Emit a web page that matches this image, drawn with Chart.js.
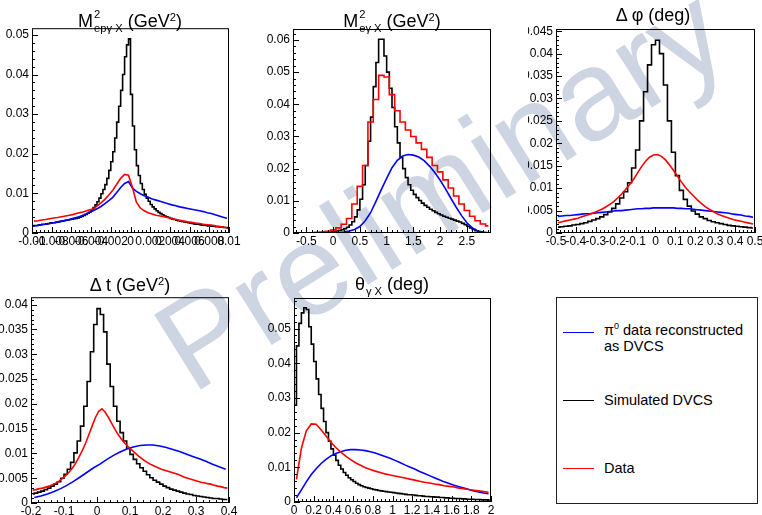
<!DOCTYPE html>
<html>
<head>
<meta charset="utf-8">
<script src="https://cdn.jsdelivr.net/npm/chart.js@4/dist/chart.umd.min.js"></script>
<style>
  html, body { margin: 0; padding: 0; background: #fff; }
  body { width: 762px; height: 515px; position: relative; overflow: hidden; font-family: "Liberation Sans", Arial, sans-serif; }
  canvas { position: absolute; z-index: 1; }
  .title { position: absolute; z-index: 2; font-size: 18px; white-space: nowrap; transform: translateX(-50%); line-height: 1; }
  .title sup { font-size: 62%; vertical-align: 0.55em; }
  .stk { display: inline-block; vertical-align: -5px; font-size: 62%; line-height: 1.25; margin-left: 1px; }
  .stk span { display: block; }
  .sub { font-size: 62%; vertical-align: -5px; margin-left: 1px; }
  #mark { position: absolute; z-index: 0; left: 440px; top: 188px; transform: translate(-50%, -50%) rotate(-32deg);
          font-size: 128px; line-height: 1; color: rgb(206, 213, 226); white-space: nowrap; }
  #legend { position: absolute; z-index: 2; left: 556px; top: 297px; width: 200px; height: 205px; border: 1px solid #222; background: #fff; font-size: 14.5px; }
  .ln { position: absolute; left: 6px; width: 31px; height: 1px; }
  .lt { position: absolute; left: 47px; line-height: 16px; }
  .lt sup { font-size: 62%; }
</style>
</head>
<body>
<div id="mark">Preliminary</div>

<div class="title" style="left:130px; top:8px">M<span class="stk"><span>2</span><span>epγ X</span></span> (GeV<sup>2</sup>)</div>
<div class="title" style="left:392px; top:8px">M<span class="stk"><span>2</span><span>eγ X</span></span> (GeV<sup>2</sup>)</div>
<div class="title" style="left:653px; top:6px">Δ φ (deg)</div>
<div class="title" style="left:130px; top:276px">Δ t (GeV<sup>2</sup>)</div>
<div class="title" style="left:392px; top:275px">θ<span class="sub">γ X</span> (deg)</div>

<div id="legend">
  <div class="ln" style="top:34px; background:#0000ff"></div>
  <div class="lt" style="top:20px">π<sup>0</sup> data reconstructed<br>as DVCS</div>
  <div class="ln" style="top:102px; background:#000"></div>
  <div class="lt" style="top:94px">Simulated DVCS</div>
  <div class="ln" style="top:170px; background:#ff0000"></div>
  <div class="lt" style="top:162px">Data</div>
</div>

<canvas id="c1"></canvas>
<canvas id="c2"></canvas>
<canvas id="c3"></canvas>
<canvas id="c4"></canvas>
<canvas id="c5"></canvas>

<script>
// ---- panel 1 : missing mass squared e p gamma X
const p1Range = [-0.01, 0.01];
const p1YMax = 0.0517;
const p1XTicks = [-0.01, -0.008, -0.006, -0.004, -0.002, 0, 0.002, 0.004, 0.006, 0.008, 0.01];
const p1YTicks = [0, 0.01, 0.02, 0.03, 0.04, 0.05];
const p1Black = [
  0.0018, 0.0019, 0.0019, 0.002, 0.0021, 0.0022, 0.0022, 0.0023, 0.0024, 0.0025,
  0.0026, 0.0026, 0.0027, 0.0028, 0.0029, 0.003, 0.0031, 0.0032, 0.0033, 0.0034,
  0.0035, 0.0036, 0.0037, 0.0038, 0.004, 0.0042, 0.0044, 0.0047, 0.005, 0.0053,
  0.0058, 0.0064, 0.0071, 0.0079, 0.0088, 0.0099, 0.011, 0.0122, 0.0138, 0.0158,
  0.018, 0.0205, 0.024, 0.028, 0.032, 0.036, 0.04, 0.0445, 0.0475, 0.049,
  0.035, 0.027, 0.021, 0.017, 0.0145, 0.0125, 0.011, 0.0098, 0.0088, 0.008,
  0.0072, 0.0066, 0.0061, 0.0056, 0.0052, 0.0049, 0.0046, 0.0043, 0.0041, 0.0039,
  0.0037, 0.0035, 0.0034, 0.0032, 0.0031, 0.003, 0.0029, 0.0028, 0.0027, 0.0026,
  0.0025, 0.0024, 0.0023, 0.0022, 0.0022, 0.0021, 0.002, 0.002, 0.0019, 0.0018,
  0.0018, 0.0017, 0.0017, 0.0016, 0.0016, 0.0015, 0.0015, 0.0014, 0.0014, 0.0013
];
const p1Red = [
  0.003, 0.0031, 0.0033, 0.0034, 0.0036, 0.0038, 0.0039, 0.0041, 0.0043, 0.0045,
  0.0047, 0.005, 0.0052, 0.0055, 0.0058, 0.0061, 0.0068, 0.0076, 0.0085, 0.0096,
  0.0108, 0.0123, 0.0138, 0.0148, 0.0146, 0.0115, 0.0078, 0.0063, 0.0056, 0.0051,
  0.0048, 0.0045, 0.0043, 0.0041, 0.0039, 0.0036, 0.0034, 0.0032, 0.003, 0.0028,
  0.0027, 0.0025, 0.0024, 0.0022, 0.0021, 0.002, 0.0018, 0.0016, 0.0015, 0.0013
];
const p1Blue = [
  0.0018, 0.0019, 0.0021, 0.0022, 0.0024, 0.0026, 0.0028, 0.003, 0.0032, 0.0034,
  0.0037, 0.004, 0.0043, 0.0047, 0.0051, 0.0056, 0.0061, 0.0067, 0.0074, 0.0082,
  0.009, 0.0102, 0.0115, 0.0125, 0.013, 0.0113, 0.0105, 0.0099, 0.0094, 0.009,
  0.0086, 0.0083, 0.008, 0.0077, 0.0074, 0.0071, 0.0069, 0.0066, 0.0064, 0.0062,
  0.006, 0.0058, 0.0056, 0.0054, 0.0051, 0.0049, 0.0046, 0.0043, 0.004, 0.0037
];

// ---- panel 2 : missing mass squared e gamma X
const p2Range = [-0.75, 2.95];
const p2YMax = 0.0634;
const p2XTicks = [-0.5, 0, 0.5, 1, 1.5, 2, 2.5];
const p2YTicks = [0, 0.01, 0.02, 0.03, 0.04, 0.05, 0.06];
const p2Black = [
  0, 0, 0, 0, 0, 0, 0, 0, 0.0001, 0.0001,
  0.0001, 0.0002, 0.0002, 0.0003, 0.0004, 0.0005, 0.0006, 0.0008, 0.001, 0.0013,
  0.0018, 0.0025, 0.0035, 0.005, 0.0072, 0.0105, 0.015, 0.021, 0.0285, 0.036,
  0.0455, 0.053, 0.0602, 0.0602, 0.055, 0.05, 0.045, 0.039, 0.033, 0.028,
  0.0235, 0.02, 0.0172, 0.015, 0.0133, 0.012, 0.011, 0.0101, 0.0093, 0.0086,
  0.008, 0.0074, 0.0069, 0.0064, 0.006, 0.0056, 0.0052, 0.0049, 0.0046, 0.0043,
  0.004, 0.0037, 0.0034, 0.003, 0.0026, 0.0021, 0.0016, 0.0011, 0.0007, 0.0004,
  0.0002, 0.0001, 0.0001, 0
];
const p2Red = [
  0, 0, 0.0001, 0.0001, 0.0002, 0.0003, 0.0005, 0.0009, 0.0016, 0.0027,
  0.0045, 0.009, 0.0145, 0.021, 0.0345, 0.0415, 0.049, 0.0485, 0.043, 0.038,
  0.0345, 0.032, 0.03, 0.028, 0.026, 0.0235, 0.021, 0.019, 0.0165, 0.014,
  0.0115, 0.009, 0.007, 0.0052, 0.0038, 0.0028, 0.0022
];
const p2Blue = [
  0, 0, 0, 0, 0, 0, 0, 0.0001, 0.0001, 0.0003,
  0.0006, 0.0011, 0.002, 0.0038, 0.0063, 0.0098, 0.0135, 0.017, 0.0203, 0.0226,
  0.0239, 0.0244, 0.0242, 0.0236, 0.0225, 0.0208, 0.0188, 0.0164, 0.0137, 0.0108,
  0.008, 0.0054, 0.0032, 0.0016, 0.0007, 0.0003, 0.0001
];

// ---- panel 3 : delta phi
const p3Range = [-0.5, 0.5];
const p3YMax = 0.0455;
const p3XTicks = [-0.5, -0.4, -0.3, -0.2, -0.1, 0, 0.1, 0.2, 0.3, 0.4, 0.5];
const p3YTicks = [0, 0.005, 0.01, 0.015, 0.02, 0.025, 0.03, 0.035, 0.04, 0.045];
const p3Black = [
  0.0013, 0.0014, 0.0015, 0.0016, 0.0018, 0.0019, 0.0021, 0.0023, 0.0026, 0.0029,
  0.0032, 0.0036, 0.0041, 0.0047, 0.0055, 0.0065, 0.0078, 0.0092, 0.0112, 0.0145,
  0.0185, 0.025, 0.0315, 0.0375, 0.042, 0.043, 0.04, 0.033, 0.025, 0.018,
  0.0128, 0.0095, 0.0075, 0.006, 0.0049, 0.0042, 0.0036, 0.0032, 0.0028, 0.0025,
  0.0023, 0.0021, 0.0019, 0.0017, 0.0016, 0.0015, 0.0014, 0.0013, 0.0012, 0.0011
];
const p3Red = [
  0.0023, 0.0025, 0.0027, 0.0029, 0.0031, 0.0033, 0.0036, 0.0039, 0.0042, 0.0045,
  0.0049, 0.0053, 0.0058, 0.0064, 0.007, 0.0078, 0.0087, 0.0097, 0.0108, 0.012,
  0.0134, 0.0148, 0.016, 0.0169, 0.0174, 0.0175, 0.0171, 0.0163, 0.0152, 0.014,
  0.0127, 0.0114, 0.0102, 0.0092, 0.0083, 0.0074, 0.0066, 0.0059, 0.0053, 0.0048,
  0.0043, 0.0039, 0.0036, 0.0033, 0.003, 0.0028, 0.0026, 0.0024, 0.0022, 0.002
];
const p3Blue = [
  0.0037, 0.0038, 0.0039, 0.0039, 0.004, 0.0041, 0.0042, 0.0043, 0.0043, 0.0044,
  0.0045, 0.0046, 0.0047, 0.0048, 0.0049, 0.005, 0.005, 0.0051, 0.0052, 0.0053,
  0.0054, 0.0054, 0.0055, 0.0055, 0.0056, 0.0056, 0.0056, 0.0056, 0.0056, 0.0056,
  0.0055, 0.0055, 0.0054, 0.0054, 0.0053, 0.0052, 0.0051, 0.005, 0.0049, 0.0048,
  0.0047, 0.0046, 0.0045, 0.0044, 0.0042, 0.0041, 0.004, 0.0038, 0.0037, 0.0035
];

// ---- panel 4 : delta t
const p4Range = [-0.2, 0.4];
const p4YMax = 0.0415;
const p4XTicks = [-0.2, -0.1, 0, 0.1, 0.2, 0.3, 0.4];
const p4YTicks = [0, 0.005, 0.01, 0.015, 0.02, 0.025, 0.03, 0.035, 0.04];
const p4Black = [
  0.0018, 0.002, 0.0022, 0.0024, 0.0027, 0.003, 0.0034, 0.0038, 0.0043, 0.005,
  0.0058, 0.0068, 0.0082, 0.0101, 0.0125, 0.0155, 0.0195, 0.0245, 0.0305, 0.036,
  0.0392, 0.038, 0.0345, 0.028, 0.0235, 0.0195, 0.0165, 0.0142, 0.0125, 0.011,
  0.0098, 0.0088, 0.0079, 0.0071, 0.0064, 0.0057, 0.0051, 0.0046, 0.0042, 0.0038,
  0.0034, 0.0031, 0.0028, 0.0026, 0.0024, 0.0022, 0.002, 0.0018, 0.0017, 0.0015,
  0.0014, 0.0013, 0.0012, 0.0011, 0.001, 0.0009, 0.0009, 0.0008, 0.0007, 0.0007
];
const p4Red = [
  0.0026, 0.0027, 0.0029, 0.003, 0.0032, 0.0034, 0.0037, 0.004, 0.0044, 0.0049,
  0.0055, 0.0062, 0.007, 0.008, 0.0092, 0.0105, 0.012, 0.0137, 0.0155, 0.0172,
  0.0185, 0.019, 0.0183, 0.0172, 0.016, 0.0148, 0.0137, 0.0128, 0.012, 0.0113,
  0.0107, 0.0101, 0.0095, 0.009, 0.0085, 0.0081, 0.0077, 0.0074, 0.0071, 0.0068,
  0.0066, 0.0064, 0.0062, 0.006, 0.0058, 0.0055, 0.0052, 0.005, 0.0048, 0.0046,
  0.0044, 0.0042, 0.0041, 0.0039, 0.0038, 0.0036, 0.0034, 0.0033, 0.0031, 0.003
];
const p4Blue = [
  0.0011, 0.0014, 0.0018, 0.0023, 0.0029, 0.0036, 0.0044, 0.0053, 0.0062, 0.0071,
  0.0079, 0.0088, 0.0096, 0.0103, 0.0109, 0.0113, 0.0116, 0.0117, 0.0117, 0.0115,
  0.0112, 0.0108, 0.0104, 0.0099, 0.0094, 0.0089, 0.0084, 0.0078, 0.0073, 0.0068
];

// ---- panel 5 : theta gamma X
const p5Range = [0, 2];
const p5YMax = 0.0588;
const p5XTicks = [0, 0.2, 0.4, 0.6, 0.8, 1, 1.2, 1.4, 1.6, 1.8, 2];
const p5YTicks = [0, 0.01, 0.02, 0.03, 0.04, 0.05];
const p5Black = [
  0.028, 0.045, 0.0515, 0.0545, 0.056, 0.0555, 0.0505, 0.0455, 0.0405, 0.0355,
  0.031, 0.027, 0.0232, 0.02, 0.0175, 0.0153, 0.0135, 0.012, 0.0106, 0.0095,
  0.0085, 0.0077, 0.007, 0.0064, 0.0059, 0.0054, 0.005, 0.0047, 0.0044, 0.0042,
  0.004, 0.0038, 0.0036, 0.0035, 0.0033, 0.0032, 0.0031, 0.003, 0.0029, 0.0028,
  0.0027, 0.0026, 0.0025, 0.0024, 0.0023, 0.0022, 0.0021, 0.0021, 0.002, 0.0019,
  0.0018, 0.0018, 0.0017, 0.0016, 0.0016, 0.0015, 0.0015, 0.0014, 0.0014, 0.0013,
  0.0013, 0.0012, 0.0012, 0.0011, 0.0011, 0.001, 0.001, 0.001, 0.0009, 0.0009,
  0.0008, 0.0008, 0.0008, 0.0007, 0.0007, 0.0007, 0.0006, 0.0006, 0.0006, 0.0005
];
const p5Red = [
  0.0065, 0.0155, 0.0205, 0.0225, 0.0224, 0.0208, 0.019, 0.0172, 0.0157, 0.0144,
  0.0132, 0.0122, 0.0113, 0.0106, 0.0099, 0.0094, 0.0089, 0.0085, 0.0081, 0.0078,
  0.0075, 0.0072, 0.0069, 0.0066, 0.0063, 0.006, 0.0057, 0.0055, 0.0052, 0.005,
  0.0047, 0.0045, 0.0043, 0.004, 0.0038, 0.0036, 0.0034, 0.0032, 0.003, 0.0028
];
const p5Blue = [
  0.0012, 0.0035, 0.0058, 0.0079, 0.0096, 0.0111, 0.0123, 0.0133, 0.014, 0.0145,
  0.0149, 0.0151, 0.0151, 0.015, 0.0148, 0.0145, 0.0141, 0.0136, 0.0131, 0.0126,
  0.012, 0.0114, 0.0107, 0.0101, 0.0095, 0.0088, 0.0082, 0.0076, 0.007, 0.0064,
  0.0058, 0.0053, 0.0048, 0.0044, 0.004, 0.0036, 0.0032, 0.0029, 0.0026, 0.0024
];

// bin contents -> points at bin centres
function hist(range, values) {
  const w = (range[1] - range[0]) / values.length;
  return values.map((v, i) => ({ x: range[0] + (i + 0.5) * w, y: v }));
}

function fmt(v) {
  return String(parseFloat(v.toPrecision(6)));
}

// frame box + inward ROOT style ticks
const frameTicks = {
  id: 'frameTicks',
  afterDatasetsDraw(chart, args, opts) {
    const ctx = chart.ctx;
    const a = chart.chartArea;
    const xs = chart.scales.x, ys = chart.scales.y;
    ctx.save();
    ctx.strokeStyle = '#000';
    ctx.lineWidth = 1;
    ctx.beginPath();
    ticksFor(opts.xMajor, 5, xs.min, xs.max).forEach(t => {
      const px = Math.round(xs.getPixelForValue(t.v)) + 0.5;
      ctx.moveTo(px, a.bottom);
      ctx.lineTo(px, a.bottom - (t.major ? 6 : 3));
    });
    ticksFor(opts.yMajor, 5, ys.min, ys.max).forEach(t => {
      const py = Math.round(ys.getPixelForValue(t.v)) + 0.5;
      ctx.moveTo(a.left, py);
      ctx.lineTo(a.left + (t.major ? 6 : 3), py);
    });
    ctx.stroke();
    ctx.strokeRect(a.left + 0.5, a.top + 0.5, a.right - a.left - 1, a.bottom - a.top - 1);
    ctx.restore();
  }
};

function ticksFor(major, sub, min, max) {
  const step = (major[1] - major[0]) / sub;
  const out = [];
  const k0 = Math.ceil((min - major[0]) / step - 1e-6);
  const k1 = Math.floor((max - major[0]) / step + 1e-6);
  for (let k = k0; k <= k1; k++) {
    out.push({ v: major[0] + k * step, major: ((k % sub) + sub) % sub === 0 });
  }
  return out;
}

function panel(id, canvasBox, frame, range, yMax, xTicks, yTicks, black, blue, red, redStep) {
  const cv = document.getElementById(id);
  cv.style.left = canvasBox[0] + 'px';
  cv.style.top = canvasBox[1] + 'px';
  cv.width = canvasBox[2] - canvasBox[0];
  cv.height = canvasBox[3] - canvasBox[1];
  const yW = frame[0] - canvasBox[0];
  const xH = canvasBox[3] - frame[3];
  const tickFont = { family: 'Liberation Sans', size: 12 };

  const config = {
    type: 'line',
    data: {
      datasets: [
        { data: hist(range, black), borderColor: '#000000', stepped: 'middle', order: 3 },
        { data: hist(range, blue), borderColor: '#0000ff', order: 2 },
        { data: hist(range, red), borderColor: '#ff0000', stepped: redStep ? 'middle' : false, order: 1 }
      ]
    },
    options: {
      responsive: false,
      animation: false,
      events: [],
      layout: { padding: { top: frame[1] - canvasBox[1], right: canvasBox[2] - frame[2], left: 0, bottom: 0 } },
      elements: {
        point: { radius: 0 },
        line: { borderWidth: 1.6, tension: 0, fill: false }
      },
      plugins: {
        legend: { display: false },
        tooltip: { enabled: false },
        frameTicks: { xMajor: xTicks, yMajor: yTicks }
      },
      scales: {
        x: {
          type: 'linear',
          min: range[0],
          max: range[1],
          grid: { display: false, drawTicks: false },
          border: { display: false },
          afterBuildTicks: (axis) => { axis.ticks = xTicks.map(v => ({ value: v })); },
          afterFit: (axis) => { axis.height = xH; axis.paddingLeft = 0; axis.paddingRight = 0; },
          ticks: { autoSkip: false, maxRotation: 0, minRotation: 0, padding: 1, color: '#000', font: tickFont, callback: (v) => fmt(v) }
        },
        y: {
          min: 0,
          max: yMax,
          grid: { display: false, drawTicks: false },
          border: { display: false },
          afterBuildTicks: (axis) => { axis.ticks = yTicks.map(v => ({ value: v })); },
          afterFit: (axis) => { axis.width = yW; },
          ticks: { autoSkip: false, padding: 3, color: '#000', font: tickFont, callback: (v) => fmt(v) }
        }
      }
    },
    plugins: [frameTicks]
  };
  return new Chart(cv, config);
}

panel('c1', [0, 18, 246, 256], [32, 28, 229, 233], p1Range, p1YMax, p1XTicks, p1YTicks, p1Black, p1Blue, p1Red, false);
panel('c2', [254, 18, 502, 256], [293, 29, 491, 233], p2Range, p2YMax, p2XTicks, p2YTicks, p2Black, p2Blue, p2Red, true);
panel('c3', [528, 18, 762, 256], [556, 29, 755, 233], p3Range, p3YMax, p3XTicks, p3YTicks, p3Black, p3Blue, p3Red, false);
panel('c4', [0, 287, 246, 515], [31, 297, 229, 503], p4Range, p4YMax, p4XTicks, p4YTicks, p4Black, p4Blue, p4Red, false);
panel('c5', [254, 287, 502, 515], [294, 298, 491, 502], p5Range, p5YMax, p5XTicks, p5YTicks, p5Black, p5Blue, p5Red, false);
</script>
</body>
</html>
